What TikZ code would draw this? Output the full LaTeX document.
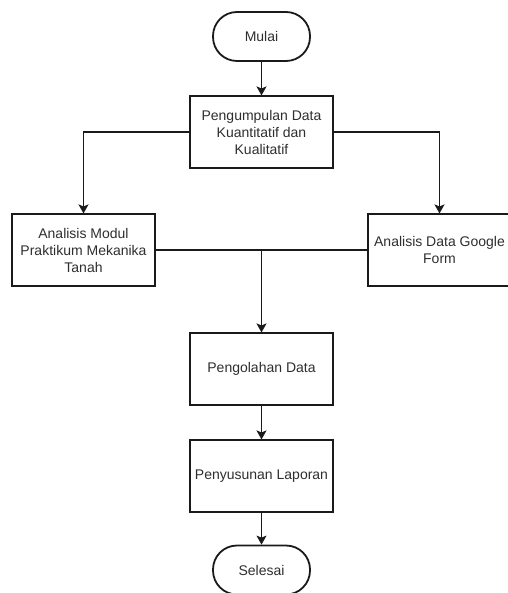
\documentclass[tikz,border=0pt]{standalone}
\usepackage{fontspec}
\setmainfont{Liberation Sans}
\usetikzlibrary{arrows.meta}
\definecolor{txt}{HTML}{2E2E2E}
\definecolor{ln}{HTML}{1A1A1A}
\tikzset{
  procbox/.style={draw=ln, line width=1.1pt, minimum width=143pt, minimum height=72pt,
    inner sep=2pt, align=center, text=txt, font=\fontsize{14pt}{17pt}\selectfont},
  term/.style={draw=ln, line width=1.8pt, minimum width=97pt, minimum height=49pt,
    rounded corners=24pt, align=center, text=txt, font=\fontsize{14pt}{17pt}\selectfont},
  conn/.style={draw=ln, line width=1.3pt},
  arr/.style={conn, -{Stealth[length=9pt,width=10pt,inset=2pt]}}
}
\begin{document}
\begin{tikzpicture}[x=1pt,y=-1pt]
\useasboundingbox (0,0) rectangle (507,593);
\node[term] (mulai) at (261.5,36.5) {Mulai};
\node[procbox] (kumpul) at (261.5,132) {Pengumpulan Data\\Kuantitatif dan\\Kualitatif};
\node[procbox] (modul) at (83.5,250) {Analisis Modul\\Praktikum Mekanika\\Tanah};
\node[procbox] (gform) at (439.5,250) {Analisis Data Google\\Form};
\node[procbox] (olah) at (261.5,369) {Pengolahan Data};
\node[procbox] (lapor) at (261.5,476) {Penyusunan Laporan};
\node[term] (selesai) at (261.5,570) {Selesai};
\coordinate (merge) at (261.5,250);
\draw[arr] (mulai) -- (kumpul);
\draw[arr] (kumpul.west) -| (modul.north);
\draw[arr] (kumpul.east) -| (gform.north);
\draw[conn] (modul.east) -- (gform.west);
\draw[arr] (merge) -- (olah.north);
\draw[arr] (olah) -- (lapor);
\draw[arr] (lapor) -- (selesai);
\end{tikzpicture}
\end{document}
